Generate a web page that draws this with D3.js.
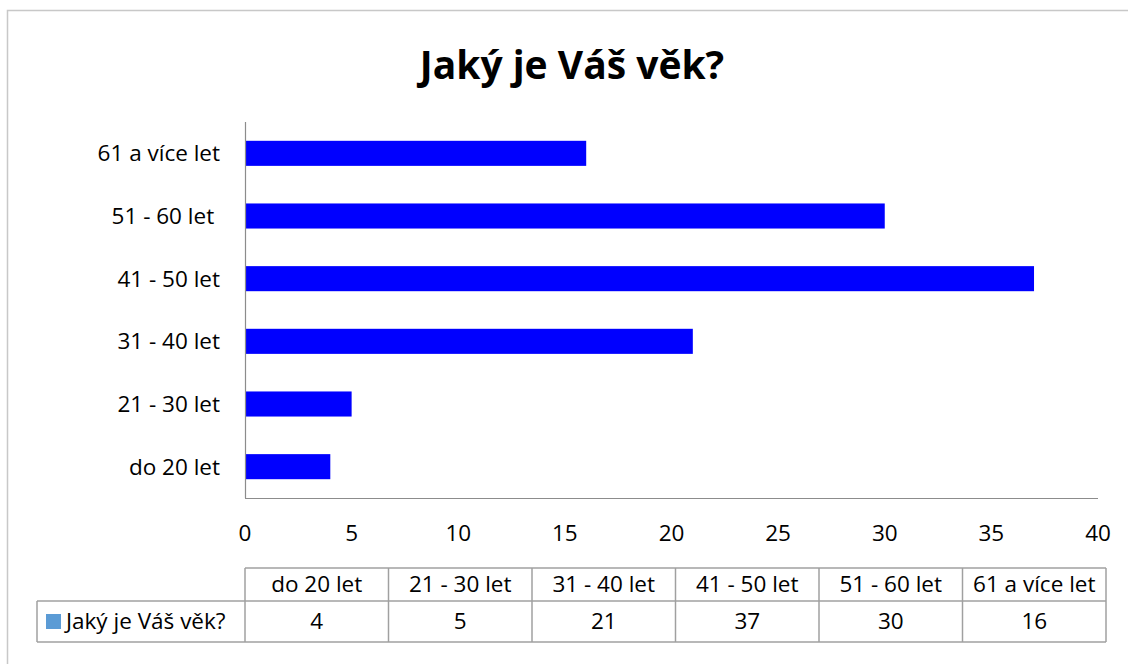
<!DOCTYPE html>
<html>
<head>
<meta charset="utf-8">
<script src="https://cdn.jsdelivr.net/npm/d3@7"></script>
<style>
  body { margin: 0; background: #fff; }
  text { font-family: "Open Sans", sans-serif; fill: #000; }
</style>
</head>
<body>
<div id="chart"></div>
<script>
// Jaký je Váš věk? - horizontal bar chart with data table below

const title = 'Jaký je Váš věk?';
const seriesName = 'Jaký je Váš věk?';
const categories = ['do 20 let', '21 - 30 let', '31 - 40 let', '41 - 50 let', '51 - 60 let ', '61 a více let'];
const values = [4, 5, 21, 37, 30, 16];
const xTicks = [0, 5, 10, 15, 20, 25, 30, 35, 40];

const width = 1128, height = 664;
const fontSize = '22.5px';
const svg = d3.select('#chart').append('svg')
    .attr('width', width)
    .attr('height', height);

// outer chart border (runs off the right and bottom edge)
svg.append('rect')
    .attr('x', 7.5).attr('y', 10.5)
    .attr('width', 1140).attr('height', 670)
    .attr('fill', 'none')
    .attr('stroke', '#c8c8c8')
    .attr('stroke-width', 1.5);

svg.append('text')
    .attr('x', 572).attr('y', 79)
    .attr('text-anchor', 'middle')
    .style('font-size', '39px')
    .style('font-weight', 'bold')
    .text(title);

const plot = { left: 245, right: 1098, top: 122, bottom: 498 };

const x = d3.scaleLinear().domain([0, 40]).range([plot.left, plot.right]);
const y = d3.scaleBand()
    .domain(categories.slice().reverse())
    .range([plot.top, plot.bottom])
    .paddingInner(0.6)
    .paddingOuter(0.3);

// bars
svg.append('g').selectAll('rect')
    .data(categories)
    .enter()
    .append('rect')
    .attr('x', x(0))
    .attr('y', d => y(d))
    .attr('width', (d, i) => x(values[i]) - x(0))
    .attr('height', y.bandwidth())
    .attr('fill', '#0000ff');

// axes lines
svg.append('line')
    .attr('x1', plot.left + 0.5).attr('x2', plot.left + 0.5)
    .attr('y1', plot.top).attr('y2', plot.bottom)
    .attr('stroke', '#8c8c8c').attr('stroke-width', 1.2);
svg.append('line')
    .attr('x1', plot.left).attr('x2', plot.right)
    .attr('y1', plot.bottom + 0.5).attr('y2', plot.bottom + 0.5)
    .attr('stroke', '#8c8c8c').attr('stroke-width', 1.2);

// category labels
svg.append('g').selectAll('text')
    .data(categories)
    .enter()
    .append('text')
    .attr('x', 220)
    .attr('y', d => y(d) + y.bandwidth() / 2)
    .attr('dy', '0.35em')
    .attr('text-anchor', 'end')
    .attr('xml:space', 'preserve')
    .style('font-size', fontSize)
    .text(d => d);

// x tick labels
svg.append('g').selectAll('text')
    .data(xTicks)
    .enter()
    .append('text')
    .attr('x', d => x(d))
    .attr('y', 533)
    .attr('dy', '0.35em')
    .attr('text-anchor', 'middle')
    .style('font-size', fontSize)
    .text(d => d);

// data table
const table = { left: 245, right: 1106, top: 568, mid: 601, bottom: 642, legendLeft: 37 };
const col = d3.scaleBand().domain(categories).range([table.left, table.right]);
const grid = svg.append('g')
    .attr('stroke', '#a0a0a0')
    .attr('stroke-width', 1.5)
    .attr('fill', 'none');

grid.append('line').attr('x1', table.left).attr('x2', table.right).attr('y1', table.top).attr('y2', table.top);
grid.append('line').attr('x1', table.legendLeft).attr('x2', table.right).attr('y1', table.mid).attr('y2', table.mid);
grid.append('line').attr('x1', table.legendLeft).attr('x2', table.right).attr('y1', table.bottom).attr('y2', table.bottom);
grid.append('line').attr('x1', table.legendLeft).attr('x2', table.legendLeft).attr('y1', table.mid).attr('y2', table.bottom);
grid.selectAll('.vline')
    .data(categories.concat(['end']))
    .enter()
    .append('line')
    .attr('class', 'vline')
    .attr('x1', d => d === 'end' ? table.right : col(d))
    .attr('x2', d => d === 'end' ? table.right : col(d))
    .attr('y1', table.top)
    .attr('y2', table.bottom);

svg.append('g').selectAll('text')
    .data(categories)
    .enter()
    .append('text')
    .attr('x', d => col(d) + col.bandwidth() / 2)
    .attr('y', (table.top + table.mid) / 2)
    .attr('dy', '0.35em')
    .attr('text-anchor', 'middle')
    .style('font-size', fontSize)
    .text(d => d.trim());

svg.append('g').selectAll('text')
    .data(categories)
    .enter()
    .append('text')
    .attr('x', d => col(d) + col.bandwidth() / 2)
    .attr('y', (table.mid + table.bottom) / 2)
    .attr('dy', '0.35em')
    .attr('text-anchor', 'middle')
    .style('font-size', fontSize)
    .text((d, i) => values[i]);

// legend key in the table
svg.append('rect')
    .attr('x', 46).attr('y', 614)
    .attr('width', 15).attr('height', 15)
    .attr('fill', '#5b9bd5');
svg.append('text')
    .attr('x', 66)
    .attr('y', (table.mid + table.bottom) / 2)
    .attr('dy', '0.35em')
    .style('font-size', fontSize)
    .text(seriesName);
</script>
</body>
</html>
